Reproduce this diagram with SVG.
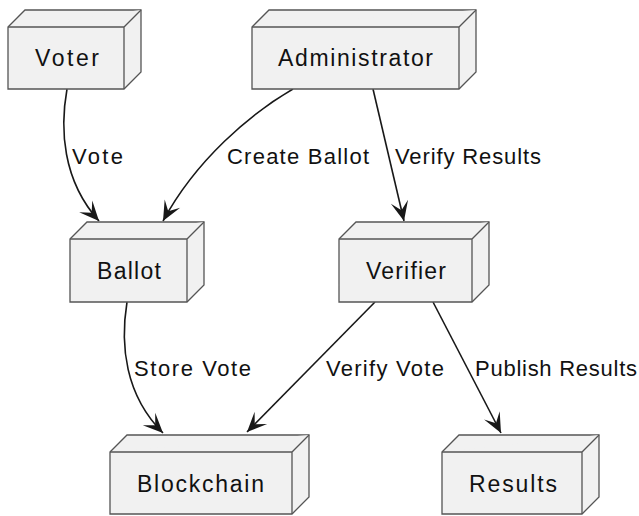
<svg xmlns="http://www.w3.org/2000/svg" width="639" height="516" viewBox="0 0 639 516">
  <style>
    .box { fill: #F1F1F1; stroke: #555555; stroke-width: 1.3; stroke-linejoin: miter; }
    .edge { fill: none; stroke: #181818; stroke-width: 1.6; }
    .ntext { font-family: "Liberation Sans", Arial, sans-serif; font-size: 23px; fill: #111111; }
    .etext { font-family: "Liberation Sans", Arial, sans-serif; font-size: 22px; fill: #111111; }
  </style>
  <defs>
    <marker id="arrow" markerUnits="userSpaceOnUse" markerWidth="22" markerHeight="20" viewBox="-19 -9 20 18" refX="0" refY="0" orient="auto">
      <path d="M0,0 L-18,-8 L-10,0 L-18,8 Z" fill="#181818"/>
    </marker>
  </defs>
  <rect width="639" height="516" fill="#FFFFFF"/>

  <!-- connectors -->
  <g id="edges">
    <path class="edge" d="M67,89 C60,128 62,180 99,221" marker-end="url(#arrow)"/>
    <path class="edge" d="M293,89 C250,114 196,160 163,221" marker-end="url(#arrow)"/>
    <path class="edge" d="M373,89 L404,221" marker-end="url(#arrow)"/>
    <path class="edge" d="M127,302 C120,345 125,395 163,433" marker-end="url(#arrow)"/>
    <path class="edge" d="M375,302 L247,432" marker-end="url(#arrow)"/>
    <path class="edge" d="M433,302 L501,433" marker-end="url(#arrow)"/>
    <text class="etext" x="72" y="164" textLength="51" lengthAdjust="spacing">Vote</text>
    <text class="etext" x="227" y="164" textLength="142" lengthAdjust="spacing">Create Ballot</text>
    <text class="etext" x="395" y="164" textLength="146" lengthAdjust="spacing">Verify Results</text>
    <text class="etext" x="134" y="376" textLength="117" lengthAdjust="spacing">Store Vote</text>
    <text class="etext" x="326" y="376" textLength="118" lengthAdjust="spacing">Verify Vote</text>
    <text class="etext" x="475" y="376" textLength="162" lengthAdjust="spacing">Publish Results</text>
  </g>

  <!-- nodes: front face plus top and right faces, depth 17 -->
  <g id="voter">
    <path class="box" d="M8,27 L25,10 L141,10 L141,72 L124,89 L8,89 Z"/>
    <path class="box" d="M8,27 L124,27 L141,10 M124,27 L124,89"/>
    <text class="ntext" x="35" y="66" textLength="64" lengthAdjust="spacing">Voter</text>
  </g>
  <g id="administrator">
    <path class="box" d="M252,27 L269,10 L476,10 L476,72 L459,89 L252,89 Z"/>
    <path class="box" d="M252,27 L459,27 L476,10 M459,27 L459,89"/>
    <text class="ntext" x="278" y="66" textLength="155" lengthAdjust="spacing">Administrator</text>
  </g>
  <g id="ballot">
    <path class="box" d="M70,239 L87,222 L204,222 L204,285 L187,302 L70,302 Z"/>
    <path class="box" d="M70,239 L187,239 L204,222 M187,239 L187,302"/>
    <text class="ntext" x="97" y="279" textLength="64" lengthAdjust="spacing">Ballot</text>
  </g>
  <g id="verifier">
    <path class="box" d="M339,239 L356,222 L489,222 L489,285 L472,302 L339,302 Z"/>
    <path class="box" d="M339,239 L472,239 L489,222 M472,239 L472,302"/>
    <text class="ntext" x="366" y="279" textLength="80" lengthAdjust="spacing">Verifier</text>
  </g>
  <g id="blockchain">
    <path class="box" d="M110,452 L127,435 L309,435 L309,497 L292,514 L110,514 Z"/>
    <path class="box" d="M110,452 L292,452 L309,435 M292,452 L292,514"/>
    <text class="ntext" x="137" y="492" textLength="127" lengthAdjust="spacing">Blockchain</text>
  </g>
  <g id="results">
    <path class="box" d="M442,452 L459,435 L599,435 L599,497 L582,514 L442,514 Z"/>
    <path class="box" d="M442,452 L582,452 L599,435 M582,452 L582,514"/>
    <text class="ntext" x="469" y="492" textLength="88" lengthAdjust="spacing">Results</text>
  </g>
</svg>
